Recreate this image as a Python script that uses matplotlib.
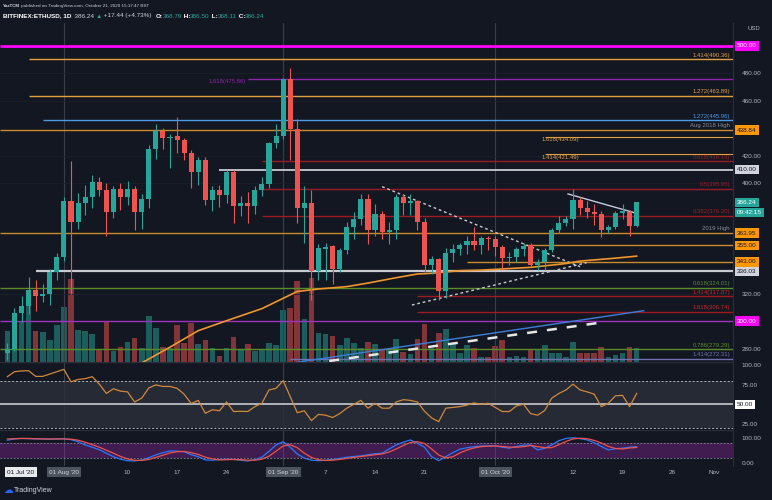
import matplotlib.pyplot as plt
import matplotlib.dates as mdates
import numpy as np
import pandas as pd

plt.rcParams['font.family'] = ['Liberation Sans', 'DejaVu Sans']

# ---- data (ETHUSD daily, Bitfinex) ----
dates = pd.date_range('2020-07-24', '2020-10-21', freq='D')
opens = [277, 280, 306, 311, 322.5, 318, 319.5, 335.5, 346.5, 387,
         372, 385.5, 390, 401, 395.5, 379.5, 396, 390, 396, 379,
         388.5, 425, 438, 433, 434.5, 431.5, 422, 408.5, 417, 388,
         395.5, 391.5, 408.5, 383.5, 386, 383.5, 395.5, 399.5, 429.5, 434.5,
         475.8, 439.5, 382, 386, 336.5, 352.5, 354.5, 338, 351.5, 368.5,
         374.5, 388.5, 366.5, 377.5, 365, 366, 390.5, 385.5, 387, 372,
         341, 345, 321.5, 349.5, 352.5, 355, 358, 355, 360.5, 359.5,
         353.5, 346, 346.5, 352.5, 355.5, 341, 343, 351.5, 366, 371.5,
         374.5, 388, 382, 379.5, 378, 366, 368.5, 378.5, 379.5, 368.79]
highs = [284, 309.5, 318, 332, 330, 327, 338, 349.5, 390, 416,
         393, 399, 406, 405, 400, 398, 400, 402, 398, 392,
         428, 443.5, 440, 436, 448, 433, 424, 419, 419, 398,
         399, 410, 410, 391, 394, 398, 405, 430.5, 443, 476.5,
         484, 447, 398, 395, 356, 357, 355, 353, 372, 379,
         392, 392, 385, 380, 372, 392, 392, 392, 388, 375,
         347, 346, 353, 356, 357, 362, 368.5, 361.5, 362, 362,
         355, 350, 354, 357, 356.5, 345, 353, 368, 376, 376,
         396, 390, 387, 385, 380, 370, 380, 385, 381, 386.5]
lows = [272, 278, 299, 305, 307, 314, 312, 330, 344, 320,
        367, 377, 382, 391, 362, 375, 381, 384, 366, 367,
        382, 418, 425, 411, 422, 417, 396.5, 399, 384, 380,
        383, 386, 371, 376, 371, 378, 391, 397, 426, 432,
        417, 371, 356.5, 315, 330, 330, 327, 336, 349, 360,
        370, 356, 362, 360, 356, 360, 377, 377, 366, 336,
        334, 315, 317, 343, 348, 349, 352, 349, 352, 347,
        338, 341, 343, 347, 339, 337, 337, 350, 364, 369,
        367, 377, 375, 370, 361, 364, 367, 374, 362, 368.11]
closes = [280, 306, 311, 322.5, 318, 319.5, 335.5, 346.5, 387, 372,
          385.5, 390, 401, 395.5, 379.5, 396, 390, 396, 379, 388.5,
          425, 438, 433, 434, 431.5, 422, 408.5, 417, 388, 395.5,
          391.5, 408.5, 383.5, 386, 383.5, 395.5, 399.5, 429.5, 434.5, 475.8,
          439.5, 382, 386, 336.5, 353, 353.5, 338, 351.5, 368.5, 374.5,
          388.5, 366.5, 377.5, 365, 366, 390.5, 385.5, 387, 372, 341,
          345, 321.5, 349.5, 352.5, 355, 358, 355, 360.5, 359.5, 353.5,
          346, 346.5, 352.5, 354.5, 341, 343, 351.5, 366, 371.5, 374.5,
          388, 382, 379.5, 377.5, 366, 368.5, 378.5, 380, 369, 386.24]
volumes = [123, 196, 163, 223, 126, 120, 90, 150, 219, 330,
           130, 123, 112, 54, 163, 43, 59, 80, 96, 56,
           183, 136, 60, 57, 148, 77, 157, 71, 87, 55,
           24, 55, 101, 48, 71, 44, 51, 77, 68, 207,
           217, 324, 173, 337, 117, 111, 104, 67, 97, 77,
           57, 80, 73, 51, 51, 93, 41, 31, 93, 153,
           57, 115, 133, 75, 37, 68, 57, 20, 20, 64,
           87, 20, 24, 20, 51, 51, 67, 37, 37, 20,
           80, 37, 37, 35, 60, 21, 28, 37, 60, 55]
rsi = [85.6, 92, 93, 93.3, 86, 86, 89, 92, 95, 79,
       82, 83, 85.6, 76, 64, 70, 67, 66, 53, 58,
       71, 75, 73, 73, 70.6, 63, 51, 55, 38.4, 43,
       41.7, 53, 40.7, 41, 40.7, 47, 51.4, 68.5, 70.6, 80.4,
       60, 39.2, 41.7, 29, 37, 36, 33, 38, 45, 50,
       55, 45, 51.4, 45, 45, 53, 56, 55, 53, 41,
       32.5, 27.6, 45, 46, 47, 49, 51.8, 50, 51.4, 46,
       40.7, 40.7, 48, 50, 38, 36, 42, 58, 64, 68.5,
       76, 68.5, 66, 63, 47, 51.4, 61, 61.5, 47, 64]
stoch_k = [90, 95, 97, 96, 95, 95, 94, 95, 96, 92,
           84, 71, 62, 52, 38, 24, 14, 8, 7, 11,
           20, 31, 40, 47, 46, 44, 32, 24, 11, 10,
           13, 14, 13, 10, 7, 12, 22, 45, 71, 84,
           62, 35, 18, 10, 8, 10, 13, 17, 22, 25,
           27, 32, 36, 38, 55, 71, 82, 91, 78, 62,
           24, 8, 24, 40, 54, 60, 64, 67, 67, 67,
           62, 58, 65, 70, 71, 51, 58, 71, 88, 97,
           100, 96, 91, 80, 65, 51, 56, 58, 62, 64]
stoch_d = [95, 96, 97, 97, 96, 95, 95, 95, 95, 94,
           90, 82, 72, 62, 50, 38, 25, 15, 10, 9,
           13, 21, 30, 39, 44, 45, 40, 33, 22, 15,
           11, 12, 13, 12, 10, 10, 14, 26, 46, 67,
           72, 60, 38, 21, 12, 9, 10, 13, 17, 21,
           25, 28, 32, 35, 43, 55, 69, 81, 84, 77,
           55, 31, 19, 24, 39, 51, 59, 64, 66, 67,
           65, 62, 62, 64, 69, 64, 60, 60, 72, 85,
           95, 98, 96, 89, 79, 65, 57, 55, 59, 61]

ma_dates = pd.to_datetime(['2020-08-12', '2020-08-16', '2020-08-20', '2020-08-25', '2020-08-29',
                           '2020-09-01', '2020-09-03', '2020-09-06', '2020-09-10', '2020-09-13',
                           '2020-09-17', '2020-09-20', '2020-09-22', '2020-09-26', '2020-09-29',
                           '2020-10-06', '2020-10-11', '2020-10-13', '2020-10-18', '2020-10-21'])
ma_values = [269.5, 281, 293, 302, 309, 316.5, 321.5, 323.3, 325, 327.6,
             331.5, 334.2, 334.7, 336.6, 337, 339, 341.8, 343.6, 345.7, 347.2]

fib_names = ['1.414', '1.618', '1.272', '1.272', '1.618', '1.414', '0.618', '0.5',
             '0.382', '0.618', '1.414', '1.618', '0.786', '1.414']
fib_levels = [490.36, 475.86, 463.89, 445.96, 434.09, 421.49, 416.13, 395.95,
              376.30, 324.01, 317.87, 306.74, 279.29, 272.31]
key_levels = [500.0, 438.84, 410.0, 363.95, 355.0, 343.0, 336.03, 300.0]
last_price = 386.24

# trend lines: (start date, start price, end date, end price)
tl_blue = ['2020-09-03', 270.0, '2020-10-22', 307.5]
tl_wedge_low = ['2020-09-07 12:00', 270.9, '2020-10-15 10:00', 298.5]
tl_tri_top = ['2020-09-15', 397.7, '2020-10-13', 339.5]
tl_tri_bot = ['2020-09-19 05:00', 311.6, '2020-10-13 22:00', 342.4]
tl_short = ['2020-10-11 07:00', 392.4, '2020-10-21', 378.3]

# ---- style ----
BG = '#131722'
UP, DOWN = '#26a69a', '#ef5350'
TXT = '#b2b5be'
ORANGE = '#e0a040'
DKRED = '#9b1c22'
GREEN = '#5b8c2a'
W, H = 772, 500

fig = plt.figure(figsize=(W / 100, H / 100), dpi=100, facecolor=BG)


def pane(top, bottom):
    a = fig.add_axes([0, 1 - bottom / H, 733 / W, (bottom - top) / H])
    a.set_facecolor(BG)
    for s in a.spines.values():
        s.set_visible(False)
    return a


ax = pane(23, 362)
ax_rsi = pane(362, 430)
ax_st = pane(430, 466)
axv = ax.twinx()
ax.set_zorder(2)
axv.set_zorder(1)
ax.patch.set_visible(False)

xmin = mdates.date2num(pd.Timestamp('2020-07-22 23:00'))
xmax = mdates.date2num(pd.Timestamp('2020-11-03 15:00'))
for a in (ax, ax_rsi, ax_st, axv):
    a.set_xlim(xmin, xmax)
ax.set_ylim(270.2, 516.7)
ax_rsi.set_ylim(16.9, 104.5)
ax_st.set_ylim(-13.2, 130.8)
axv.set_ylim(0, 1356)
axv.axis('off')

x = mdates.date2num(dates)
o, c = np.array(opens), np.array(closes)
cols = np.where(c >= o, UP, DOWN)

# month grid lines
for a in (ax, ax_rsi, ax_st):
    for m in ['2020-08-01', '2020-09-01', '2020-10-01']:
        a.axvline(mdates.date2num(pd.Timestamp(m)), color='#3a3e4a', lw=0.8, zorder=0)
for p in [280, 320, 400, 420, 460, 480]:
    ax.axhline(p, color='#1c202b', lw=0.6, zorder=0)

# volume
axv.bar(x, volumes, width=0.8, color=cols, alpha=0.5, lw=0)

# levels
def level(price, start, color, lw=1.0, ls='-'):
    s = mdates.date2num(pd.Timestamp(start)) if start else xmin
    ax.hlines(price, s, xmax, colors=color, lw=lw, ls=ls, zorder=2)

level(500.0, None, '#ff00ff', 2.0)
level(fib_levels[0], '2020-07-27', ORANGE, 1.0)
level(fib_levels[1], '2020-08-27', '#8e24aa', 1.0)
level(fib_levels[2], '2020-07-27', ORANGE, 1.0)
level(fib_levels[3], '2020-07-29', '#4a9be8', 1.0)
level(438.84, None, '#c98a2c', 1.0)
level(fib_levels[4], '2020-10-08', ORANGE, 0.8)
level(fib_levels[5], '2020-10-08', ORANGE, 0.8)
for p in fib_levels[6:9]:
    level(p, '2020-08-29', DKRED, 1.0)
level(410.0, '2020-08-23', '#c8cad0', 1.3)
level(363.95, None, '#c98a2c', 1.0)
level(355.0, '2020-10-05', '#c98a2c', 1.0)
level(343.0, '2020-09-27', '#c98a2c', 1.0)
level(336.03, '2020-07-28', '#c8cad0', 1.6)
level(fib_levels[9], None, GREEN, 1.0)
level(fib_levels[10], '2020-09-20', DKRED, 1.0)
level(fib_levels[11], '2020-09-20', DKRED, 1.0)
level(300.0, None, '#a030c0', 1.0)
level(fib_levels[12], None, GREEN, 1.0)
level(fib_levels[13], '2020-09-02', '#7070b0', 1.0)

# trend lines
def tline(t, color, lw, ls):
    xs = mdates.date2num([pd.Timestamp(t[0]), pd.Timestamp(t[2])])
    ax.plot(xs, [t[1], t[3]], color=color, lw=lw, ls=ls, zorder=3)

tline(tl_blue, '#3d7ed8', 1.0, '-')
tline(tl_wedge_low, '#e6e6e6', 1.8, (0, (4, 4)))
tline(tl_tri_top, '#c8cad0', 1.0, (0, (2, 2)))
tline(tl_tri_bot, '#c8cad0', 1.0, (0, (2, 2)))
tline(tl_short, '#c8c8e0', 1.0, '-')

# moving average
ax.plot(mdates.date2num(ma_dates), ma_values, color='#f0962c', lw=1.2, zorder=3)

# candles
ax.vlines(x, lows, highs, colors=cols, lw=0.8, zorder=4)
ax.bar(x, np.maximum(np.abs(c - o), 0.7), width=0.72, bottom=np.minimum(o, c),
       color=cols, lw=0, zorder=5)

# level labels
fs = 4.3
right_lab = {0: ORANGE, 2: ORANGE, 3: '#4a9be8', 6: DKRED, 7: DKRED, 8: DKRED,
             9: GREEN, 10: '#c62828', 11: '#c62828', 12: GREEN, 13: '#7070b0'}
for i, col in right_lab.items():
    ax.text(730 / 733, fib_levels[i] + 1.2, f'{fib_names[i]}({fib_levels[i]:.2f})',
            transform=ax.get_yaxis_transform(), ha='right', va='bottom',
            fontsize=fs, color=col, zorder=6)
ax.text(mdates.date2num(pd.Timestamp('2020-08-27')) - 0.3, fib_levels[1],
        f'{fib_names[1]}({fib_levels[1]:.2f})', ha='right', va='top',
        fontsize=fs, color='#8e24aa', zorder=6)
for i in (4, 5):
    ax.text(mdates.date2num(pd.Timestamp('2020-10-07 12:00')), fib_levels[i] - 0.5,
            f'{fib_names[i]}({fib_levels[i]:.2f})', ha='left', va='top',
            fontsize=fs, color=ORANGE, zorder=6)
ax.text(730 / 733, 438.84 + 1.5, 'Aug 2018 High', transform=ax.get_yaxis_transform(),
        ha='right', va='bottom', fontsize=fs, color='#8a8e99')
ax.text(730 / 733, 363.95 + 1.5, '2019 High', transform=ax.get_yaxis_transform(),
        ha='right', va='bottom', fontsize=fs, color='#8a8e99')

# price scale
ax.yaxis.tick_right()
ax.set_yticks([280, 320, 400, 420, 460, 480])
ax.set_yticklabels([f'{v:.2f}' for v in [280, 320, 400, 420, 460, 480]])
ax.tick_params(axis='y', length=0, pad=6, labelsize=4.6, labelcolor=TXT)
ax.set_xticks([])


def axis_box(a, y, text, bg, fg):
    a.text(1 + 4 / 733, y, text, transform=a.get_yaxis_transform(), ha='left',
           va='center', fontsize=4.6, color=fg, clip_on=False, zorder=10,
           bbox=dict(boxstyle='square,pad=0.35', fc=bg, ec='none'))


box_cols = {500.0: ('#ff00ff', 'white'), 438.84: ('#ff9800', '#131722'),
            410.0: ('#d1d4dc', '#131722'), 363.95: ('#ff9800', '#131722'),
            355.0: ('#ff9800', '#131722'), 343.0: ('#ff9800', '#131722'),
            336.03: ('#d1d4dc', '#131722'), 300.0: ('#ff00ff', 'white')}
for p in key_levels:
    axis_box(ax, p, f'{p:.2f}', *box_cols[p])
axis_box(ax, last_price, f'{last_price:.2f}', UP, 'white')
axis_box(ax, last_price - 7.2, '09:42:15', UP, 'white')
ax.text(1 + 14 / 733, 1.0 - 6 / 339, 'USD', transform=ax.transAxes, ha='left',
        va='center', fontsize=4.3, color=TXT)

# RSI pane
ax_rsi.fill_between([xmin, xmax], 20, 80, color='#2a2e39', alpha=0.85, lw=0, zorder=0)
ax_rsi.axhline(80, color='#b2b5be', lw=0.7, ls=(0, (2, 2)))
ax_rsi.axhline(20, color='#b2b5be', lw=0.7, ls=(0, (2, 2)))
ax_rsi.axhline(50, color='#c8cad0', lw=1.2)
ax_rsi.plot(x, rsi, color='#d0893a', lw=0.9, zorder=3)
ax_rsi.yaxis.tick_right()
ax_rsi.set_yticks([25, 75, 100])
ax_rsi.set_yticklabels(['25.00', '75.00', '100.00'])
ax_rsi.tick_params(axis='y', length=0, pad=6, labelsize=4.6, labelcolor=TXT)
ax_rsi.set_xticks([])
axis_box(ax_rsi, 50, '50.00', 'white', '#131722')
ax_rsi.axhline(104.5, color='#2a2e39', lw=1)

# Stoch RSI pane
ax_st.fill_between([xmin, xmax], 20, 80, color='#9c27b0', alpha=0.33, lw=0, zorder=0)
ax_st.axhline(80, color='#8a8e99', lw=0.6, ls=(0, (2, 2)))
ax_st.axhline(20, color='#8a8e99', lw=0.6, ls=(0, (2, 2)))
ax_st.plot(x, stoch_k, color='#2979ff', lw=0.9, zorder=3)
ax_st.plot(x, stoch_d, color='#f0524a', lw=0.9, zorder=3)
ax_st.yaxis.tick_right()
ax_st.set_yticks([0, 100])
ax_st.set_yticklabels(['0.00', '100.00'])
ax_st.tick_params(axis='y', length=0, pad=6, labelsize=4.6, labelcolor=TXT)
ax_st.axhline(130.8, color='#2a2e39', lw=1)

# time scale
tick_dates = ['2020-08-10', '2020-08-17', '2020-08-24', '2020-09-07', '2020-09-14',
              '2020-09-21', '2020-10-12', '2020-10-19', '2020-10-26', '2020-11-01']
tick_labels = ['10', '17', '24', '7', '14', '21', '12', '19', '26', 'Nov']
ax_st.set_xticks(mdates.date2num(pd.to_datetime(tick_dates)))
ax_st.set_xticklabels(tick_labels)
ax_st.tick_params(axis='x', length=0, pad=3, labelsize=4.6, labelcolor=TXT)
for m, lab in [('2020-08-01', "01 Aug '20"), ('2020-09-01', "01 Sep '20"),
               ('2020-10-01', "01 Oct '20")]:
    ax_st.text(mdates.date2num(pd.Timestamp(m)), -0.17, lab,
               transform=ax_st.get_xaxis_transform(), ha='center', va='center',
               fontsize=4.6, color='#d1d4dc', clip_on=False,
               bbox=dict(boxstyle='square,pad=0.35', fc='#4c525e', ec='none'))
ax_st.text(21 / 733, -0.17, "01 Jul '20", transform=ax_st.transAxes, ha='center',
           va='center', fontsize=4.6, color='#131722', clip_on=False,
           bbox=dict(boxstyle='square,pad=0.35', fc='#e8e9ec', ec='none'))

# separators
fig.add_artist(plt.Line2D([733 / W, 733 / W], [1 - 466 / H, 1 - 23 / H], color='#2a2e39', lw=0.8))

# header: pieces laid out one after another, then scaled to the caption width
renderer = fig.canvas.get_renderer()


def caption(py, pieces, width):
    arts = []
    for s, color, weight in pieces:
        arts.append(fig.text(0, 1 - py / H, s, color=color, fontsize=5,
                             fontweight=weight, ha='left', va='center'))
    total = sum(t.get_window_extent(renderer).width for t in arts)
    scale = width / total
    px = 3
    for t in arts:
        t.set_fontsize(5 * scale)
        t.set_x(px / W)
        px += t.get_window_extent(renderer).width


LT, WH = '#d1d4dc', '#ffffff'
caption(6, [('YazTCM', LT, 'bold'),
            (' published on TradingView.com, October 21, 2020 15:17:47 BST', LT, 'normal')], 147)
caption(16, [('BITFINEX:ETHUSD, 1D', WH, 'bold'), ('  386.24 ', LT, 'normal'),
             ('\u25b2', UP, 'normal'), (' +17.44 (+4.73%)  ', LT, 'normal'),
             ('O:', WH, 'bold'), ('368.79', UP, 'normal'), (' H:', WH, 'bold'),
             ('386.50', UP, 'normal'), (' L:', WH, 'bold'), ('368.11', UP, 'normal'),
             (' C:', WH, 'bold'), ('386.24', UP, 'normal')], 267)

# footer logo
fig.text(3 / W, 1 - 490 / H, '\u2601', color='#2962ff', fontsize=7,
         family='DejaVu Sans', ha='left', va='center')
fig.text(14 / W, 1 - 490 / H, 'TradingView', color='#d1d4dc', fontsize=5,
         ha='left', va='center')

fig.savefig('out.png', dpi=100, facecolor=BG)
